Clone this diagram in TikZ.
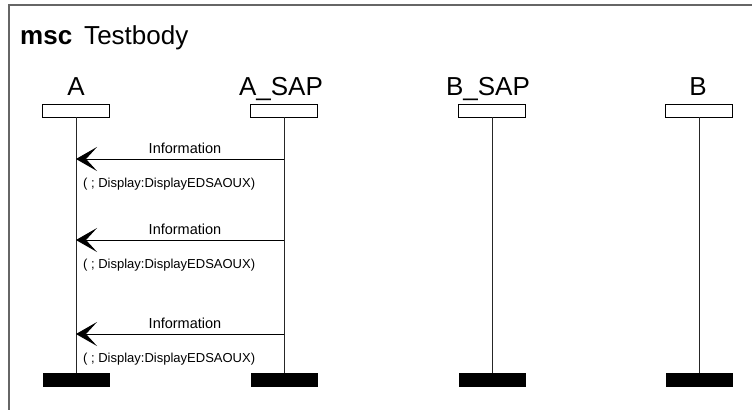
\documentclass[tikz,border=0pt]{standalone}
\usepackage{fontspec}
\setmainfont{Liberation Sans}
\usetikzlibrary{arrows.meta, positioning}

\begin{document}
\begin{tikzpicture}[
            x=1pt, y=-1pt,
            >=Stealth,
            lifeline/.style={line width=0.9pt, draw=black!85},
            head/.style={rectangle, draw, line width=0.8pt, minimum width=67pt, minimum height=13pt, inner sep=0pt},
            stopbar/.style={rectangle, fill=black, minimum width=67pt, minimum height=14pt, inner sep=0pt},
            instname/.style={anchor=base, inner sep=0pt, font=\fontsize{26}{28}\selectfont},
            message/.style={line width=0.8pt, -{Stealth[length=21pt, width=24pt, inset=11pt]}},
            msgname/.style={font=\fontsize{14.5}{16}\selectfont, above=5pt, xshift=5pt, inner sep=0pt},
            msgparam/.style={font=\fontsize{13}{15}\selectfont, anchor=west, inner sep=0pt}
        ]

        % Bordo della pagina
        \useasboundingbox (0,0) rectangle (752,410);

        % Cornice e titolo
        \draw[line width=1.5pt, black!60] (752,5) -- (9,5) -- (9,410);
        \node[anchor=base west, inner sep=0pt, font=\fontsize{26}{28}\selectfont] (title) at (20,44) {\textbf{msc}\hspace{12pt}Testbody};

        % Teste delle istanze
        \node[head] (Ahead) at (76,110.5) {};
        \node[head] (ASAPhead) at (284,110.5) {};
        \node[head] (BSAPhead) at (492,110.5) {};
        \node[head] (Bhead) at (699,110.5) {};

        % Nomi delle istanze
        \node[instname] (Aname) at (76,95) {A};
        \node[instname] (ASAPname) at (281,95) {A\_SAP};
        \node[instname] (BSAPname) at (488,95) {B\_SAP};
        \node[instname] (Bname) at (698,95) {B};

        % Fine delle istanze
        \node[stopbar] (Aend) at (76,380) {};
        \node[stopbar] (ASAPend) at (284,380) {};
        \node[stopbar] (BSAPend) at (492,380) {};
        \node[stopbar] (Bend) at (699,380) {};

        % Linee di vita
        \draw[lifeline] (Ahead) -- (Aend);
        \draw[lifeline] (ASAPhead) -- (ASAPend);
        \draw[lifeline] (BSAPhead) -- (BSAPend);
        \draw[lifeline] (Bhead) -- (Bend);

        % Messaggi
        \coordinate (m1from) at (284,159);
        \coordinate (m1to) at (76,159);
        \coordinate (m2from) at (284,240);
        \coordinate (m2to) at (76,240);
        \coordinate (m3from) at (284,334);
        \coordinate (m3to) at (76,334);

        \draw[message] (m1from) -- node[msgname] {Information} (m1to);
        \draw[message] (m2from) -- node[msgname] {Information} (m2to);
        \draw[message] (m3from) -- node[msgname] {Information} (m3to);

        % Parametri dei messaggi
        \node[msgparam] (p1) at ([xshift=7pt, yshift=-25pt]m1to) {( ; Display:DisplayEDSAOUX)};
        \node[msgparam] (p2) at ([xshift=7pt, yshift=-25pt]m2to) {( ; Display:DisplayEDSAOUX)};
        \node[msgparam] (p3) at ([xshift=7pt, yshift=-25pt]m3to) {( ; Display:DisplayEDSAOUX)};

        \end{tikzpicture}
\end{document}
